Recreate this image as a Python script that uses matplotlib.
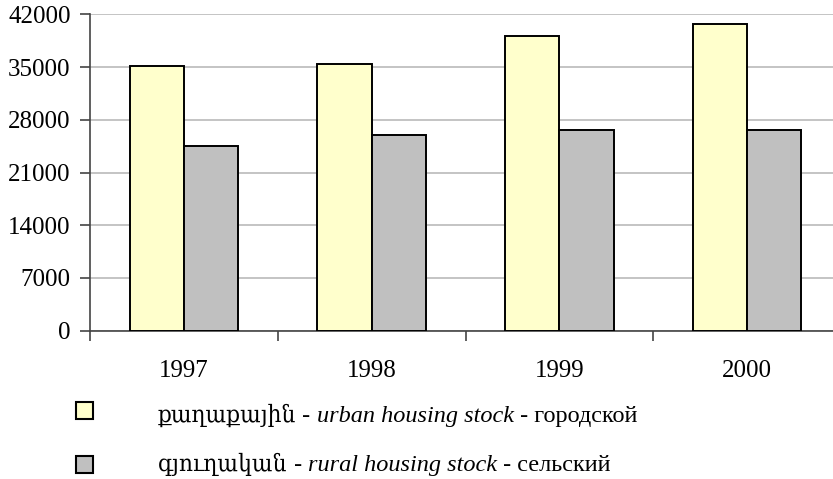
import matplotlib
matplotlib.use("Agg")
import matplotlib.pyplot as plt
from matplotlib.patches import Rectangle
import numpy as np

years = ["1997", "1998", "1999", "2000"]
urban = [35100, 35400, 39100, 40700]
rural = [24500, 26000, 26600, 26600]
y_ticks = [0, 7000, 14000, 21000, 28000, 35000, 42000]

legend_rows = [
    ("քաղաքային", " - ", "urban housing stock", " - городской"),
    ("գյուղական", " - ", "rural housing stock", " - сельский"),
]

urban_color = "#ffffcc"
rural_color = "#c0c0c0"
serif = ["Liberation Serif", "DejaVu Serif"]
fs = 18
legend_fs = 17.5

plt.rcParams["font.family"] = serif

W, H = 833, 479
fig = plt.figure(figsize=(W / 100, H / 100), dpi=100)
ax = fig.add_axes([90 / W, (H - 330.7) / H, 751 / W, 316.4 / H])

x = np.arange(len(years))
bw = 0.289
ax.bar(x - bw / 2, urban, bw, color=urban_color, edgecolor="black", linewidth=1.4, zorder=3)
ax.bar(x + bw / 2, rural, bw, color=rural_color, edgecolor="black", linewidth=1.4, zorder=3)

ax.set_xlim(-0.5, len(years) - 0.5)
ax.set_ylim(0, 42000)
ax.set_yticks(y_ticks)
ax.set_yticklabels([str(v) for v in y_ticks], fontsize=fs)
ax.yaxis.grid(True, color="#c4c4c4", linewidth=1.4, zorder=0)
ax.set_axisbelow(True)

ax.set_xticks(x)
ax.set_xticklabels(years, fontsize=fs)
ax.tick_params(axis="x", length=0, pad=21)
ax.set_xticks(np.arange(len(years) + 1) - 0.5, minor=True)
ax.tick_params(axis="x", which="minor", length=7, width=1.2, color="#444444")
ax.tick_params(axis="y", length=7, width=1.2, color="#444444", pad=7)

for s in ["top", "right"]:
    ax.spines[s].set_visible(False)
for s in ["left", "bottom"]:
    ax.spines[s].set_color("#444444")
    ax.spines[s].set_linewidth(1.2)

# legend below the axes, built by hand so the middle part can be italic
fig.canvas.draw()
renderer = fig.canvas.get_renderer()
box_top = [402, 456]
baselines = [421.7, 471]
for parts, color, top, base in zip(legend_rows, [urban_color, rural_color], box_top, baselines):
    fig.patches.append(Rectangle((76 / W, (H - top - 17) / H), 17 / W, 17 / H,
                                 transform=fig.transFigure, facecolor=color,
                                 edgecolor="black", linewidth=1.5))
    xpos = 158
    styles = [("normal", "condensed"), ("normal", "normal"),
              ("italic", "normal"), ("normal", "normal")]
    for part, (style, stretch) in zip(parts, styles):
        t = fig.text(xpos / W, (H - base) / H, part, fontsize=legend_fs, style=style,
                     fontstretch=stretch, va="baseline", ha="left", family=serif)
        xpos += t.get_window_extent(renderer).width

fig.savefig("out.png", dpi=100)
